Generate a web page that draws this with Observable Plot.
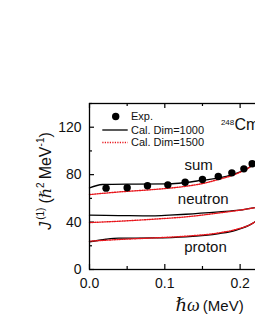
<!DOCTYPE html>
<html><head><meta charset="utf-8">
<script src="https://cdn.jsdelivr.net/npm/d3@7"></script>
<script src="https://cdn.jsdelivr.net/npm/@observablehq/plot@0.6"></script>
<style>
body{margin:0;background:#fff;}
#wrap{position:relative;width:255px;height:330px;overflow:hidden;}
#wrap svg{position:absolute;left:0;top:0;max-width:none !important;}
</style></head><body>
<div id="wrap"></div>
<script>
// Experimental points
const expX = [0.022,0.050,0.077,0.104,0.127,0.150,0.171,0.189,0.205,0.216];
const expY = [68.6,68.9,70.6,71.4,73.6,75.9,78.4,81.5,84.9,89.2];
// Sum, Dim=1000 (solid)
const sum1000X = [0,0.017,0.061,0.106,0.128,0.150,0.172,0.190,0.205,0.216,0.221];
const sum1000Y = [68.8,71.7,72.0,72.2,73.4,75.3,77.2,80.1,83.7,87.9,91.3];
// Sum, Dim=1500 (dotted)
const sum1500X = [0,0.039,0.084,0.128,0.150,0.172,0.194,0.216,0.221];
const sum1500Y = [63.2,65.4,67.4,70.2,72.5,76.1,80.4,87.9,90.7];
// Neutron
const neu1000X = [0,0.039,0.084,0.106,0.128,0.172,0.199,0.221];
const neu1000Y = [45.8,45.5,45.2,45.8,46.6,48.6,50.0,52.3];
const neu1500X = [0,0.039,0.084,0.128,0.172,0.199,0.221];
const neu1500Y = [39.6,40.7,42.4,44.4,47.7,50.0,52.3];
// Proton
const pro1000X = [0,0.022,0.039,0.084,0.128,0.172,0.194,0.216,0.221];
const pro1000Y = [23.3,25.5,26.4,26.6,27.5,30.3,33.1,38.7,40.7];
const pro1500X = [0,0.039,0.084,0.128,0.172,0.194,0.216,0.221];
const pro1500Y = [23.9,25.3,26.6,28.1,30.9,33.7,38.7,40.7];

const xMajor = [0,0.1,0.2,0.3];
const xMinor = [0.05,0.15,0.25];
const yMajor = [0,40,80,120];
const yMinor = [20,60,100,140];
const curveLabels = ["sum","neutron","proton"];
const curveLabelX = [0.145,0.151,0.154];
const curveLabelY = [87.9,59.5,19.0];
const legendLabels = ["Exp.","Cal. Dim=1000","Cal. Dim=1500"];

const pts = (xs, ys) => xs.map((x,i)=>({x, y: ys[i]}));
const font = "Liberation Sans, Arial, sans-serif";
const red = "#e8151b";
const dash = "1.2,1.3";

const W = 340, H = 330, ML = 89, MR = 10, MT = 103, MB = 61;
const fw = W-ML-MR, fh = H-MT-MB;

const chart = Plot.plot({
  width: W, height: H,
  marginLeft: ML, marginRight: MR, marginTop: MT, marginBottom: MB,
  style: {fontFamily: font, background: "transparent", overflow: "visible", maxWidth: "none"},
  x: {domain: [0, 0.32]},
  y: {domain: [0, 140]},
  marks: [
    Plot.axisX({ticks: [0,0.1,0.2], tickFormat: d3.format(".1f"), tickSize: 0, tickPadding: 9, fontSize: 14, label: null, fill: "#111"}),
    Plot.axisY({ticks: yMajor, tickSize: 0, tickPadding: 8, fontSize: 14, label: null, fill: "#111"}),
    // inward ticks
    Plot.ruleX(xMajor, {x: d=>d, insetTop: fh-5, stroke: "black", strokeWidth: 1.2}),
    Plot.ruleX(xMinor, {x: d=>d, insetTop: fh-3, stroke: "black", strokeWidth: 1.2}),
    Plot.ruleX(xMajor, {x: d=>d, insetBottom: fh-5, stroke: "black", strokeWidth: 1.2}),
    Plot.ruleX(xMinor, {x: d=>d, insetBottom: fh-3, stroke: "black", strokeWidth: 1.2}),
    Plot.ruleY(yMajor, {y: d=>d, insetRight: fw-5, stroke: "black", strokeWidth: 1.2}),
    Plot.ruleY(yMinor, {y: d=>d, insetRight: fw-3, stroke: "black", strokeWidth: 1.2}),
    // curves
    Plot.line(pts(sum1000X,sum1000Y), {x:"x", y:"y", stroke: "black", strokeWidth: 1.3, curve: "monotone-x"}),
    Plot.line(pts(neu1000X,neu1000Y), {x:"x", y:"y", stroke: "black", strokeWidth: 1.3, curve: "monotone-x"}),
    Plot.line(pts(pro1000X,pro1000Y), {x:"x", y:"y", stroke: "black", strokeWidth: 1.3, curve: "monotone-x"}),
    Plot.line(pts(sum1500X,sum1500Y), {x:"x", y:"y", stroke: red, strokeWidth: 1.4, strokeDasharray: dash, curve: "monotone-x"}),
    Plot.line(pts(neu1500X,neu1500Y), {x:"x", y:"y", stroke: red, strokeWidth: 1.4, strokeDasharray: dash, curve: "monotone-x"}),
    Plot.line(pts(pro1500X,pro1500Y), {x:"x", y:"y", stroke: red, strokeWidth: 1.4, strokeDasharray: dash, curve: "monotone-x"}),
    Plot.dot(pts(expX,expY), {x:"x", y:"y", r: 3.7, fill: "black", stroke: "none"}),
    Plot.text(curveLabels, {x: (d,i)=>curveLabelX[i], y: (d,i)=>curveLabelY[i], text: d=>d, fontSize: 15, fill: "#111"}),
    Plot.text(["248"], {x: [0.1745], y: [123.8], text: d=>d, textAnchor: "start", fontSize: 8, fill: "#111"}),
    Plot.text(["Cm"], {x: [0.1925], y: [122.3], text: d=>d, textAnchor: "start", fontSize: 16, fill: "#111"}),
    Plot.frame({stroke: "black", strokeWidth: 1.3})
  ]
});
chart.style.maxWidth = "none";
chart.style.height = H + "px";
chart.style.width = W + "px";
document.getElementById("wrap").appendChild(chart);

// Overlay: legend and axis titles
const ov = d3.select("#wrap").append("svg").attr("width",255).attr("height",330)
  .style("font-family", font);
const lg = ov.append("g");
lg.append("circle").attr("cx",115.7).attr("cy",116.5).attr("r",3.7).attr("fill","black");
lg.append("line").attr("x1",102.3).attr("x2",127.7).attr("y1",130).attr("y2",130).attr("stroke","black").attr("stroke-width",1.3);
lg.append("line").attr("x1",102.3).attr("x2",127.7).attr("y1",142.5).attr("y2",142.5).attr("stroke",red).attr("stroke-width",1.4).attr("stroke-dasharray",dash);
legendLabels.forEach((t,i)=>{
  lg.append("text").attr("x",131).attr("y",[116.5,130,142.5][i]).attr("dy","0.35em")
    .attr("font-size",11).attr("fill","#111").text(t);
});
// x title
const xt = ov.append("text").attr("x",175.5).attr("y",311).attr("fill","#111");
xt.append("tspan").attr("font-family","Liberation Serif, DejaVu Serif, serif").attr("font-style","italic").attr("font-size",18).text("ℏω");
xt.append("tspan").attr("font-size",15).attr("dx",3).text("(MeV)");
// y title
const yt = ov.append("text").attr("transform","translate(51,181) rotate(-90)").attr("text-anchor","middle").attr("fill","#111").attr("font-size",16);
yt.append("tspan").attr("font-style","italic").text("J");
yt.append("tspan").attr("font-size",10).attr("dy",-7).attr("dx",2).text("(1)");
yt.append("tspan").attr("dy",7).attr("dx",4).text("(");
yt.append("tspan").attr("font-family","DejaVu Serif, Liberation Serif, serif").attr("font-style","italic").text("ℏ");
yt.append("tspan").attr("font-size",10).attr("dy",-7).text("2");
yt.append("tspan").attr("dy",7).attr("dx",3).text("MeV");
yt.append("tspan").attr("font-size",10).attr("dy",-7).text("-1");
yt.append("tspan").attr("dy",7).text(")");
</script>
</body></html>
